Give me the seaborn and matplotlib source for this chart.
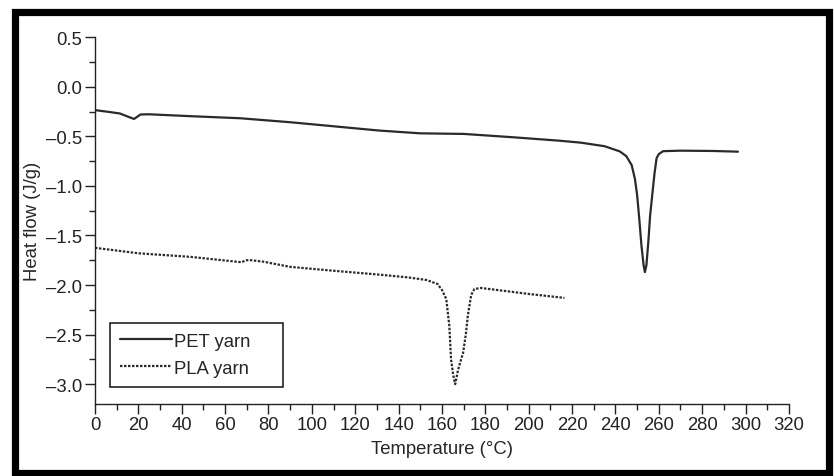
import matplotlib
matplotlib.use("Agg")
import matplotlib.pyplot as plt
from matplotlib.patches import Rectangle
from matplotlib.ticker import MultipleLocator, FuncFormatter
import numpy as np
import pandas as pd
import seaborn as sns

# PET yarn DSC curve
pet_temp = [0, 5, 11.5, 15, 18, 21, 25, 44, 67, 90, 113, 131, 150, 170, 193, 214,
            224, 235, 242, 245, 247.5, 249, 250, 251, 252, 253, 253.6, 254.3, 255.2,
            256, 257, 258, 259, 260, 262, 270, 285, 296.5]
pet_flow = [-0.236, -0.25, -0.27, -0.3, -0.325, -0.28, -0.278, -0.297, -0.318, -0.358,
            -0.405, -0.442, -0.47, -0.476, -0.51, -0.544, -0.564, -0.6, -0.652, -0.7,
            -0.79, -0.93, -1.09, -1.33, -1.6, -1.8, -1.87, -1.8, -1.56, -1.3, -1.09,
            -0.88, -0.72, -0.68, -0.65, -0.645, -0.648, -0.655]

# PLA yarn DSC curve
pla_temp = [0, 20, 44, 67.5, 70, 72, 78, 90, 112, 131, 145, 153, 158, 160, 162, 163.4,
            164.2, 165.2, 166.1, 167.5, 169.8, 171, 172, 173.5, 175, 178, 200, 216.5]
pla_flow = [-1.625, -1.68, -1.716, -1.77, -1.75, -1.75, -1.766, -1.817, -1.86, -1.895,
            -1.925, -1.95, -1.99, -2.05, -2.14, -2.41, -2.75, -2.91, -3.0, -2.85, -2.68,
            -2.5, -2.3, -2.1, -2.04, -2.03, -2.09, -2.13]

sns.set_style("ticks")
plt.rcParams['font.family'] = ['Liberation Sans', 'DejaVu Sans']

fig = plt.figure(figsize=(8.34, 4.77), dpi=100)
ax = fig.add_axes([0.1139, 0.151, 0.832, 0.769])

df_pet = pd.DataFrame({'T': pet_temp, 'H': pet_flow})
df_pla = pd.DataFrame({'T': pla_temp, 'H': pla_flow})

sns.lineplot(data=df_pet, x='T', y='H', sort=False, ax=ax, color='#2a2a2a',
             linewidth=1.6, label='PET yarn')
sns.lineplot(data=df_pla, x='T', y='H', sort=False, ax=ax, color='#2a2a2a',
             linewidth=1.6, linestyle=(0, (1.1, 0.7)), label='PLA yarn')

ax.set_xlim(0, 320)
ax.set_ylim(-3.2, 0.5)
ax.xaxis.set_major_locator(MultipleLocator(20))
ax.xaxis.set_minor_locator(MultipleLocator(10))
ax.yaxis.set_major_locator(MultipleLocator(0.5))
ax.yaxis.set_minor_locator(MultipleLocator(0.25))
ax.yaxis.set_major_formatter(FuncFormatter(lambda v, p: f'{v:.1f}'.replace('-', '\u2013')))
ax.tick_params(which='major', length=7, width=1, labelsize=13.3, colors='#222222', pad=2)
ax.tick_params(which='minor', length=4.5, width=1, colors='#222222')
for s in ['top', 'right']:
    ax.spines[s].set_visible(False)
for s in ['left', 'bottom']:
    ax.spines[s].set_color('#222222')
    ax.spines[s].set_linewidth(1)

ax.set_xlabel('Temperature (°C)', fontsize=13.3, labelpad=5)
ax.set_ylabel('Heat flow (J/g)', fontsize=13.3, labelpad=4)

leg = ax.legend(loc='lower left', bbox_to_anchor=(0.0216, 0.046, 0.249, 0.17),
                mode='expand', borderaxespad=0, fontsize=13.3, framealpha=1,
                frameon=True, fancybox=False, edgecolor='#111111', handlelength=2.8,
                handletextpad=0.1, borderpad=0.55, labelspacing=0.55)
leg.get_frame().set_linewidth(1.1)

# thick black frame round the whole figure
fig.patches.append(Rectangle((0.0174, 0.0073), 0.9772, 0.9654, transform=fig.transFigure,
                             fill=False, edgecolor='black', linewidth=5.2))

fig.savefig('out.png', dpi=100)
